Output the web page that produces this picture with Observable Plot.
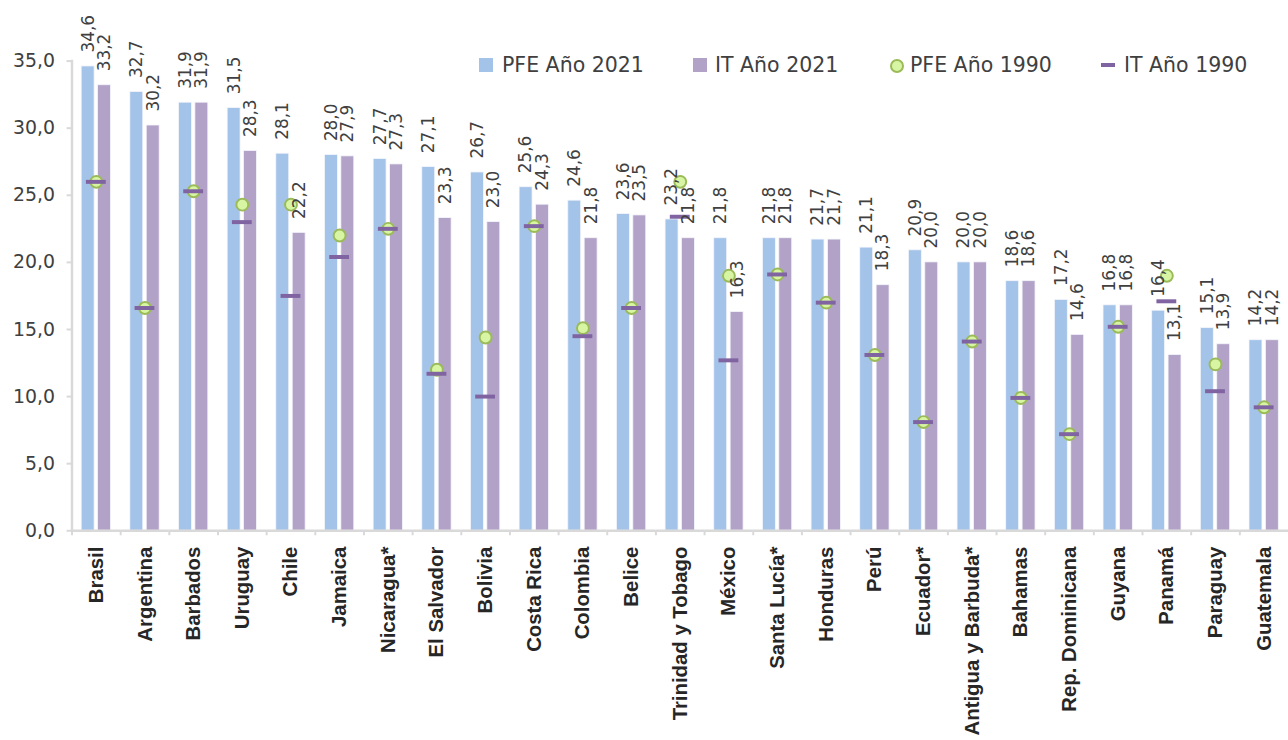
<!DOCTYPE html>
<html>
<head>
<meta charset="utf-8">
<script src="https://cdn.jsdelivr.net/npm/d3@7"></script>
<script src="https://cdn.jsdelivr.net/npm/@observablehq/plot@0.6"></script>
<style>
  html, body { margin: 0; padding: 0; background: #fff; }
  body { width: 1288px; height: 740px; overflow: hidden; position: relative; }
  #chart { position: absolute; left: 0; top: 0; }
  .lg { position: absolute; font-family: "DejaVu Sans", sans-serif; font-size: 20.5px; color: #404040; line-height: 24px; white-space: nowrap; }
  .sw { position: absolute; }
</style>
</head>
<body>
<div id="chart"></div>
<div class="sw" style="left:479px;top:58px;width:14px;height:14px;background:#a4c3e9"></div>
<div class="lg" style="left:502px;top:53px">PFE Año 2021</div>
<div class="sw" style="left:693px;top:58px;width:14px;height:14px;background:#b3a2c8"></div>
<div class="lg" style="left:715px;top:53px">IT Año 2021</div>
<div class="sw" style="left:890px;top:59px;width:10px;height:10px;border-radius:50%;background:#d7f5a3;border:2px solid #9bbb59"></div>
<div class="lg" style="left:910px;top:53px">PFE Año 1990</div>
<div class="sw" style="left:1101px;top:63px;width:14px;height:4px;background:#8064a2"></div>
<div class="lg" style="left:1124px;top:53px">IT Año 1990</div>
<script>
const countries = ["Brasil","Argentina","Barbados","Uruguay","Chile","Jamaica","Nicaragua*","El Salvador","Bolivia","Costa Rica","Colombia","Belice","Trinidad y Tobago","México","Santa Lucía*","Honduras","Perú","Ecuador*","Antigua y Barbuda*","Bahamas","Rep. Dominicana","Guyana","Panamá","Paraguay","Guatemala"];
const pfe2021 = [34.6,32.7,31.9,31.5,28.1,28.0,27.7,27.1,26.7,25.6,24.6,23.6,23.2,21.8,21.8,21.7,21.1,20.9,20.0,18.6,17.2,16.8,16.4,15.1,14.2];
const it2021  = [33.2,30.2,31.9,28.3,22.2,27.9,27.3,23.3,23.0,24.3,21.8,23.5,21.8,16.3,21.8,21.7,18.3,20.0,20.0,18.6,14.6,16.8,13.1,13.9,14.2];
const pfe1990 = [26.0,16.6,25.3,24.3,24.3,22.0,22.5,12.0,14.4,22.7,15.1,16.6,26.0,19.0,19.1,17.0,13.1,8.1,14.1,9.9,7.2,15.2,19.0,12.4,9.2];
const it1990  = [26.0,16.6,25.3,23.0,17.5,20.4,22.5,11.7,10.0,22.7,14.5,16.6,23.4,12.7,19.1,17.0,13.1,8.1,14.1,9.9,7.2,15.2,17.1,10.4,9.2];
const yTicks = [0,5,10,15,20,25,30,35];

const fmt = v => v.toFixed(1).replace(".", ",");
const bars = countries.flatMap((c, i) => [
  {country: c, series: "PFE", value: pfe2021[i]},
  {country: c, series: "IT", value: it2021[i]}
]);
const dots = countries.map((c, i) => ({country: c, value: pfe1990[i]}));
const dashes = countries.map((c, i) => ({country: c, value: it1990[i]}));

const numFont = "DejaVu Sans";
const chart = Plot.plot({
  width: 1297,
  height: 740,
  marginLeft: 72,
  marginRight: 0,
  marginTop: 61,
  marginBottom: 206,
  style: {background: "transparent", overflow: "visible"},
  fx: {domain: countries, paddingInner: 0, paddingOuter: 0, round: false, label: null},
  x: {domain: ["PFE", "IT"], paddingInner: 0.21, paddingOuter: 0.59, round: false, axis: null},
  y: {domain: [0, 35], label: null},
  color: {domain: ["PFE", "IT"], range: ["#a4c3e9", "#b3a2c8"]},
  marks: [
    Plot.barY(bars, {fx: "country", x: "series", y: "value", fill: "series", stroke: "#f4f6fb", strokeWidth: 0.8}),
    Plot.ruleY([0], {stroke: "#d9d9d9", strokeWidth: 2.5}),
    Plot.frame({anchor: "left", stroke: "#d9d9d9", strokeWidth: 2.5, facetAnchor: "left"}),
    Plot.axisY({ticks: yTicks, tickSize: 5, text: null, stroke: "#d9d9d9", strokeWidth: 2, facetAnchor: "left"}),
    Plot.axisY({ticks: yTicks, tickSize: 0, tickPadding: 17, tickFormat: fmt, fontSize: 19, fontFamily: numFont, fill: "#404040", label: null, facetAnchor: "left"}),
    Plot.axisFx({anchor: "bottom", tickSize: 5, text: null, dx: -24.5, stroke: "#d9d9d9", strokeWidth: 2}),
    Plot.axisFx({anchor: "bottom", tickSize: 0, tickPadding: 16, tickRotate: -90, fontSize: 20.5, fontWeight: "bold", fontFamily: "Liberation Sans", fill: "#262626", label: null}),
    Plot.dot(dots, {fx: "country", y: "value", r: 6, fill: "#d7f5a3", stroke: "#9bbb59", strokeWidth: 2}),
    Plot.tickY(dashes, {fx: "country", y: "value", stroke: "#8064a2", strokeWidth: 4, insetLeft: 14.5, insetRight: 14.5}),
    Plot.text(bars, {fx: "country", x: "series", y: "value", text: d => fmt(d.value), rotate: -90, textAnchor: "start", lineAnchor: "middle", dy: -14, fontSize: 17, fontFamily: numFont, fill: "#404040"})
  ]
});
document.getElementById("chart").appendChild(chart);
</script>
</body>
</html>
